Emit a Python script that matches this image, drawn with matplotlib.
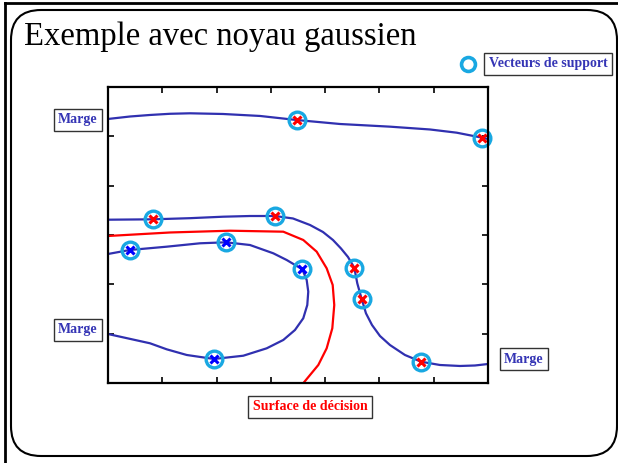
import matplotlib
matplotlib.use("Agg")
import matplotlib.pyplot as plt
from matplotlib.patches import FancyBboxPatch

# contour curves (data units: x 0..7, y 0..6)
top_marge_x = [0, 0.405, 0.774, 1.142, 1.510, 2.118, 2.800, 3.476, 4.274, 5.194, 5.931, 6.423, 6.889, 7.0]
top_marge_y = [5.352, 5.402, 5.433, 5.457, 5.467, 5.453, 5.413, 5.331, 5.250, 5.196, 5.139, 5.074, 4.973, 4.946]

right_marge_x = [0, 0.834, 1.510, 2.124, 2.616, 3.076, 3.408, 3.721, 3.960, 4.144, 4.292, 4.421, 4.537,
                 4.592, 4.673, 4.752, 4.863, 5.010, 5.194, 5.470, 5.765, 6.115, 6.484, 6.760, 7.0]
right_marge_y = [3.310, 3.318, 3.341, 3.371, 3.385, 3.385, 3.335, 3.203, 3.061, 2.899, 2.727, 2.554, 2.337,
                 2.021, 1.703, 1.413, 1.176, 0.953, 0.770, 0.568, 0.432, 0.365, 0.345, 0.355, 0.385]

left_marge_x = [0, 0.400, 1.081, 1.695, 2.174, 2.616, 3.045, 3.292, 3.579, 3.660, 3.689, 3.671, 3.597,
                3.444, 3.229, 2.923, 2.492, 1.952, 1.450, 1.081, 0.774, 0]
left_marge_y = [2.615, 2.696, 2.763, 2.832, 2.852, 2.797, 2.629, 2.493, 2.305, 2.088, 1.851, 1.581, 1.312,
                1.074, 0.872, 0.703, 0.553, 0.487, 0.568, 0.683, 0.805, 0.993]

decision_x = [0, 1.142, 2.247, 3.229, 3.597, 3.844, 4.028, 4.139, 4.168, 4.132, 4.028, 3.874, 3.60]
decision_y = [2.980, 3.051, 3.087, 3.067, 2.899, 2.662, 2.325, 1.987, 1.581, 1.109, 0.703, 0.365, 0]

# support vectors
sv_red_x = [3.476, 6.889, 0.834, 3.076, 4.537, 4.673, 5.765]
sv_red_y = [5.331, 4.973, 3.318, 3.385, 2.337, 1.703, 0.432]
sv_blue_x = [0.400, 2.174, 3.579, 1.952]
sv_blue_y = [2.696, 2.852, 2.305, 0.487]

W, H = 618, 463
fig = plt.figure(figsize=(W / 100, H / 100), dpi=100)

# background layer in pixel units: slide frame, title, labels
bg = fig.add_axes([0, 0, 1, 1])
bg.set_xlim(0, W)
bg.set_ylim(H, 0)
bg.axis("off")
bg.plot([5, W], [3, 3], color="black", lw=2)
bg.plot([5, 5], [3, H], color="black", lw=2)
bg.add_patch(FancyBboxPatch((11, 10), 606, 446, boxstyle="round,pad=0,rounding_size=30",
                            fc="none", ec="black", lw=1.5))
bg.text(24, 45, "Exemple avec noyau gaussien", family="Liberation Serif", fontsize=23.5,
        va="baseline", ha="left", color="black")

blue_txt = "#3535b5"
box = dict(boxstyle="square,pad=0.3", fc="white", ec="#333333", lw=1)
lab = dict(family="Liberation Serif", fontweight="bold", fontsize=10, ha="center", va="center")
bg.text(78, 120, "Marge", color=blue_txt, bbox=box, **lab)
bg.text(78, 330, "Marge", color=blue_txt, bbox=box, **lab)
bg.text(524, 359, "Marge", color=blue_txt, bbox=box, **lab)
bg.text(310, 407, "Surface de décision", color="red", bbox=box, **lab)
bg.text(548, 64, "Vecteurs de support", color=blue_txt, bbox=box, **lab)
bg.plot([467.5], [63.5], "o", ms=10, mfc="none", mec="#19a8e2", mew=2.6)

# main axes
ax = fig.add_axes([108 / W, (H - 383) / H, 380 / W, 296 / H])
ax.set_facecolor("none")
ax.set_xlim(0, 7)
ax.set_ylim(0, 6)

curve_blue = "#3030b0"
for cx, cy, c in [(top_marge_x, top_marge_y, curve_blue),
                  (right_marge_x, right_marge_y, curve_blue),
                  (left_marge_x, left_marge_y, curve_blue),
                  (decision_x, decision_y, "red")]:
    ax.plot(cx, cy, color=c, lw=1.6, solid_joinstyle="round", solid_capstyle="round")

ax.plot(sv_red_x + sv_blue_x, sv_red_y + sv_blue_y, "o", ms=12, mfc="none", mec="#19a8e2", mew=2.4, clip_on=False)
ax.plot(sv_red_x, sv_red_y, "x", ms=6, color="red", mew=2.2, clip_on=False)
ax.plot(sv_blue_x, sv_blue_y, "x", ms=6, color="blue", mew=2.2, clip_on=False)

ax.set_xticks([1, 2, 3, 4, 5, 6])
ax.set_yticks([1, 2, 3, 4, 5])
ax.set_xticklabels([])
ax.set_yticklabels([])
ax.tick_params(direction="in", length=4, width=1.2, top=True, right=True, color="black")
for s in ax.spines.values():
    s.set_linewidth(1.6)

fig.savefig("out.png", dpi=100)
